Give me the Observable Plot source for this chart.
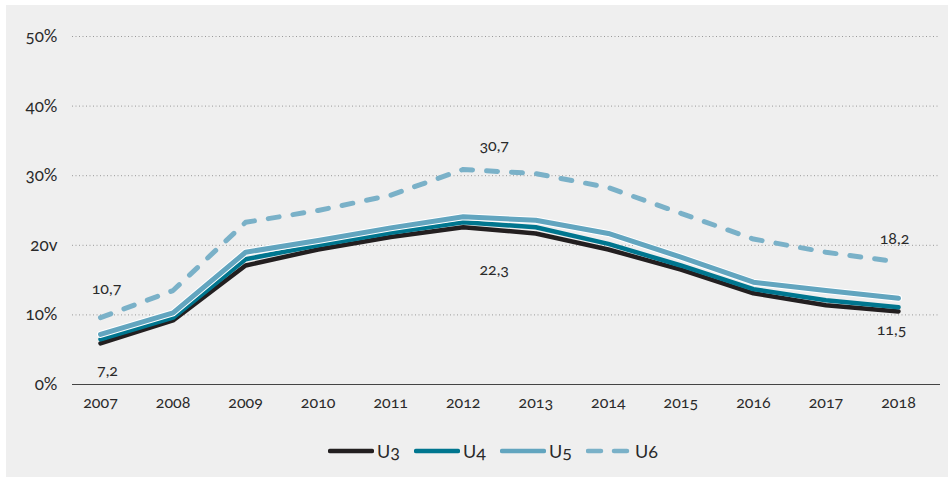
<!DOCTYPE html>
<html>
<head>
<meta charset="utf-8">
<script src="https://cdn.jsdelivr.net/npm/d3@7"></script>
<script src="https://cdn.jsdelivr.net/npm/@observablehq/plot@0.6"></script>
<style>
  html, body { margin: 0; padding: 0; background: #ffffff; width: 948px; height: 477px; overflow: hidden; }
  #panel { position: absolute; left: 6px; top: 5px; width: 942px; height: 472px; background: #efefef; }
  #chart { position: absolute; left: 0; top: 0; }
  #legend { position: absolute; left: 0; top: 440px; width: 948px; display: flex; justify-content: center; padding-left: 52px; box-sizing: border-box;
    font-family: Lato, "Open Sans", sans-serif; font-size: 18px; font-weight: 400; color: #2a2a2a; font-variant-numeric: oldstyle-nums; }
  .item { display: flex; align-items: center; margin-right: 14px; }
  .item svg { margin-right: 3px; }
  #chart text { font-variant-numeric: oldstyle-nums; font-weight: 400; }
</style>
</head>
<body>
<div id="panel"></div>
<div id="chart"></div>
<div id="legend"></div>
<script>
const years = [2007, 2008, 2009, 2010, 2011, 2012, 2013, 2014, 2015, 2016, 2017, 2018];
const u3 = [5.9, 9.2, 17.1, 19.4, 21.2, 22.6, 21.7, 19.4, 16.5, 13.1, 11.4, 10.5];
const u4 = [6.5, 9.6, 18.0, 20.0, 21.8, 23.3, 22.6, 20.2, 17.1, 13.7, 12.1, 11.1];
const u5 = [7.2, 10.3, 19.0, 20.7, 22.5, 24.1, 23.6, 21.7, 18.3, 14.7, 13.5, 12.4];
const u6 = [9.6, 13.5, 23.3, 25.0, 27.2, 30.9, 30.3, 28.3, 24.6, 20.9, 19.0, 17.6];
const yTicks = [0, 10, 20, 30, 40, 50];
const yTickLabels = ["0%", "10%", "20v", "30%", "40%", "50%"];
const seriesNames = ["U3", "U4", "U5", "U6"];
const seriesColors = ["#231f20", "#00768f", "#62a5bf", "#7ab1c8"];

// data labels: series, year, text, pixel offsets
const labelSeries = ["U6", "U3", "U6", "U3", "U6", "U3"];
const labelYears = [2007, 2007, 2012, 2012, 2018, 2018];
const labelTexts = ["10,7", "7,2", "30,7", "22,3", "18,2", "11,5"];
const labelDx = [6, 7, 31, 31, -4, -7];
const labelDy = [-29, 27, -24, 43, -23, 18];

const seriesValues = {U3: u3, U4: u4, U5: u5, U6: u6};
const rows = seriesNames.flatMap(s => years.map((yr, i) => ({series: s, year: yr, value: seriesValues[s][i]})));
const bySeries = s => rows.filter(r => r.series === s);
const labels = labelTexts.map((t, i) => ({
  text: t, year: labelYears[i],
  value: seriesValues[labelSeries[i]][years.indexOf(labelYears[i])],
  dx: labelDx[i], dy: labelDy[i]
}));

const font = "Lato, 'Open Sans', sans-serif";

const chart = Plot.plot({
  width: 948,
  height: 420,
  marginLeft: 72,
  marginRight: 8,
  marginTop: 36,
  marginBottom: 36,
  style: {background: "transparent", fontFamily: font, color: "#2a2a2a"},
  x: {domain: [2007, 2018], range: [100, 898], label: null},
  y: {domain: [0, 50], label: null},
  marks: [
    Plot.gridY(yTicks.slice(1), {stroke: "#999", strokeOpacity: 1, strokeDasharray: "1,2.5", strokeWidth: 1}),
    Plot.ruleY([0], {stroke: "#444", strokeWidth: 1.2}),
    Plot.axisY({ticks: yTicks, tickFormat: d => yTickLabels[yTicks.indexOf(d)], tickSize: 0, tickPadding: 15, fontSize: 17, line: true, stroke: "#444", fill: "#2a2a2a"}),
    Plot.axisX({ticks: years, tickFormat: d => String(d), tickSize: 0, tickPadding: 12, fontSize: 16, fill: "#2a2a2a"}),
    Plot.line(bySeries("U3"), {x: "year", y: "value", stroke: seriesColors[0], strokeWidth: 4.5}),
    Plot.line(bySeries("U4"), {x: "year", y: "value", stroke: seriesColors[1], strokeWidth: 4.5}),
    Plot.line(bySeries("U5"), {x: "year", y: "value", stroke: "#ffffff", strokeWidth: 7}),
    Plot.line(bySeries("U5"), {x: "year", y: "value", stroke: seriesColors[2], strokeWidth: 5}),
    Plot.line(bySeries("U6"), {x: "year", y: "value", stroke: seriesColors[3], strokeWidth: 5, strokeDasharray: "11,14", strokeLinecap: "round"}),
    Plot.text(labels, {x: "year", y: "value", text: "text", fontSize: 16, fill: "#2a2a2a"})
  ]
});
document.getElementById("chart").appendChild(chart);

// per-label pixel offsets
chart.querySelectorAll("g[aria-label='text'] text").forEach((t, i) => {
  const l = labels[i];
  t.setAttribute("transform", (t.getAttribute("transform") || "") + ` translate(${l.dx},${l.dy})`);
});

// legend
const legend = document.getElementById("legend");
seriesNames.forEach((name, i) => {
  const item = document.createElement("div");
  item.className = "item";
  const dashed = name === "U6";
  item.innerHTML = `<svg width="46" height="10"><line x1="2" y1="5" x2="44" y2="5" stroke="${seriesColors[i]}" stroke-width="4.5" stroke-linecap="round" ${dashed ? 'stroke-dasharray="13,13"' : ''}/></svg><span>${name}</span>`;
  legend.appendChild(item);
});
</script>
</body>
</html>
